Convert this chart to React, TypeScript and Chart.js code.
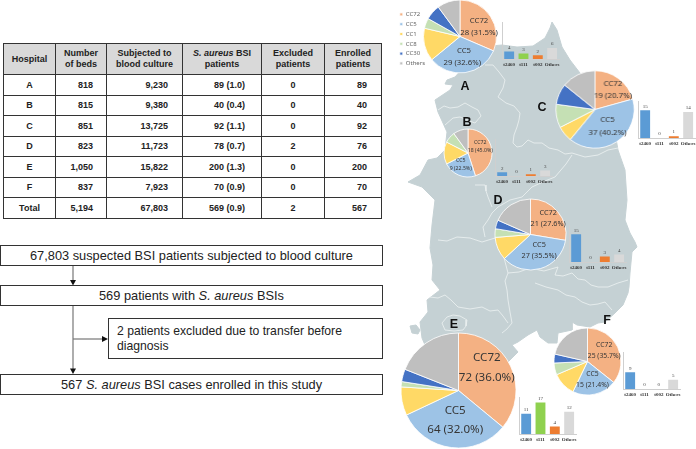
import React, { useEffect, useRef } from "react";
import { Chart, registerables } from "chart.js";

Chart.register(...registerables);

// ---------- table data ----------
const hospitals = ["A", "B", "C", "D", "E", "F", "Total"];
const beds = ["818", "815", "851", "823", "1,050", "837", "5,194"];
const cultured = ["9,230", "9,380", "13,725", "11,723", "15,822", "7,923", "67,803"];
const bsiPatients = ["89 (1.0)", "40 (0.4)", "92 (1.1)", "78 (0.7)", "200 (1.3)", "70 (0.9)", "569 (0.9)"];
const excluded = ["0", "0", "0", "2", "0", "0", "2"];
const enrolled = ["89", "40", "92", "76", "200", "70", "567"];

// ---------- pie data ----------
const ccLabels = ["CC72", "CC5", "CC1", "CC8", "CC30", "Others"];
const ccColors = ["#F4B183", "#9DC3E6", "#FFD966", "#C5E0B4", "#4472C4", "#BFBFBF"];
const pieA = [28, 29, 13, 4, 6, 9];
const pieB = [18, 9, 6, 3, 0, 4];
const pieC = [19, 37, 6, 9, 8, 13];
const pieD = [21, 27, 8, 3, 3, 14];
const pieE = [72, 64, 16, 3, 7, 38];
const pieF = [25, 15, 8, 4, 3, 15];

// ---------- bar data ----------
const spaTypes = ["t2460", "t111", "t002", "Others"];
const spaColors = ["#5B9BD5", "#8FD14F", "#ED7D31", "#D9D9D9"];
const barA = [4, 3, 2, 6];
const barB = [2, 0, 1, 3];
const barC = [15, 0, 1, 14];
const barD = [15, 0, 3, 4];
const barE = [11, 17, 4, 12];
const barF = [9, 0, 0, 5];

// ---------- map outline, in page pixels ----------
const mainlandX = [455,470,490,502,517,533,545,550,552,557,562,570,580,590,612,618,625,627,625,630,635,637,632,630,629,628,623,615,605,598,590,577,572,572,558,557,548,540,537,528,518,512,518,508,500,420,425,422,420,428,427,440,432,433,430,432,435,422,408,420,428,437,445,447,438,435,450,453,445,447,455];
const mainlandY = [77,60,46,45,47,46,38,28,22,30,47,60,73,85,115,150,170,200,220,233,242,247,252,273,287,293,305,313,322,323,327,325,322,330,333,343,343,337,330,335,342,345,352,362,370,360,345,338,322,312,300,290,280,265,248,225,200,187,182,175,160,158,150,132,112,100,90,85,84,80,77];
const isleX = [410,416,420,418,412,410];
const isleY = [326,325,330,334,333,326];
const regionLines: number[][][] = [
  [[485,65],[493,65],[499,72],[505,80],[503,88],[498,97],[506,103],[514,106],[520,113],[519,120],[517,127],[514,135],[513,143],[517,147],[522,146],[528,140],[534,143],[542,143],[549,148],[558,150],[565,154],[572,153],[585,157],[598,155],[608,150],[618,148]],
  [[438,110],[444,106],[450,108],[458,107],[465,103],[472,107],[478,110],[481,116],[475,123],[467,120],[460,117],[453,118],[445,125]],
  [[572,155],[566,164],[555,177],[545,181],[532,187],[527,192],[522,197],[510,200],[498,207],[492,213],[488,220],[483,227],[485,237]],
  [[475,185],[485,185],[486,191],[488,197],[492,207]],
  [[438,240],[447,241],[457,237],[470,238],[482,242],[495,238],[503,254],[508,273],[505,281],[507,290],[508,300],[510,312],[512,323],[507,329],[502,333]],
  [[558,267],[555,275],[563,276],[572,273],[578,279],[585,280],[591,285],[598,287],[608,287],[618,283],[628,280]],
  [[430,297],[438,298],[445,295],[451,300],[458,307],[470,309],[482,307],[490,311],[498,310],[503,316],[508,323]],
  [[442,323],[447,317],[453,315],[460,316],[467,320],[466,326],[463,330],[454,331],[445,330],[442,323]],
  [[508,273],[519,272],[530,268],[544,271],[558,267]],
  [[535,283],[546,287],[558,290],[566,295],[575,297],[582,302],[590,305],[598,304],[605,302],[612,310]],
];

// ---------- placement ----------
const fontSans = "'Liberation Sans', Arial, sans-serif";
const fontPie = "'Noto Sans', sans-serif";
const fontBar = "'Liberation Serif', serif";

type PieCfg = {
  id: string; data: number[]; cx: number; cy: number; r: number; font: number;
  off: number[][]; halfW?: number; legend?: boolean;
};
const pies: PieCfg[] = [
  { id: "A", data: pieA, cx: 460, cy: 36.5, r: 36.5, font: 7.8, off: [[19,-15.7],[19,-3.3],[4,14],[2.3,26]], halfW: 64, legend: true },
  { id: "B", data: pieB, cx: 468.3, cy: 153.3, r: 24, font: 5.2, off: [[12.3,-10],[12.3,-2.3],[-7.3,7.7],[-7.3,15.7]] },
  { id: "C", data: pieC, cx: 595, cy: 109.3, r: 38.7, font: 7.8, off: [[17.7,-26],[17.7,-13.3],[12.3,10],[12.3,23]] },
  { id: "D", data: pieD, cx: 530.7, cy: 234.3, r: 35.5, font: 7.3, off: [[17.7,-22],[17.7,-10.7],[8.7,10],[8.7,21.7]] },
  { id: "E", data: pieE, cx: 458.3, cy: 390, r: 57.5, font: 11.6, off: [[28.3,-32.7],[28.3,-13.3],[-3.3,20],[-3.3,39.3]] },
  { id: "F", data: pieF, cx: 587.3, cy: 361.7, r: 33.5, font: 6.8, off: [[16.7,-16.3],[16.7,-5],[5,12.7],[5,23.7]] },
];
const bars = [
  { data: barA, left: 501, base: 58.5 },
  { data: barB, left: 494, base: 175.7 },
  { data: barC, left: 636.5, base: 138.3 },
  { data: barD, left: 568, base: 261.7 },
  { data: barE, left: 518, base: 434.3 },
  { data: barF, left: 622, base: 389.3 },
];
const letters = [
  { t: "A", x: 465, y: 86 }, { t: "B", x: 467, y: 122 }, { t: "C", x: 542, y: 107 },
  { t: "D", x: 498, y: 200 }, { t: "E", x: 454, y: 324 }, { t: "F", x: 607, y: 320 },
];

const BAR_W = 60, BAR_H = 37, BAR_LABEL = 10;

const pieTextPlugin = {
  id: "pieText",
  afterDatasetsDraw(chart: any, _a: any, opts: any) {
    const arc = chart.getDatasetMeta(0).data[0];
    const { ctx } = chart;
    const vals: number[] = chart.data.datasets[0].data;
    const sum = vals.reduce((a, b) => a + b, 0);
    const lines = [
      ccLabels[0], `${vals[0]} (${((vals[0] / sum) * 100).toFixed(1)}%)`,
      ccLabels[1], `${vals[1]} (${((vals[1] / sum) * 100).toFixed(1)}%)`,
    ];
    ctx.save();
    ctx.font = `${opts.font}px ${fontPie}`;
    ctx.fillStyle = "#363636";
    ctx.textAlign = "center";
    ctx.textBaseline = "middle";
    lines.forEach((s, i) => ctx.fillText(s, arc.x + opts.off[i][0], arc.y + opts.off[i][1]));
    ctx.restore();
  },
};

const barValuePlugin = {
  id: "barValue",
  afterDatasetsDraw(chart: any) {
    const { ctx } = chart;
    const vals: number[] = chart.data.datasets[0].data;
    ctx.save();
    ctx.font = `5px ${fontBar}`;
    ctx.fillStyle = "#444";
    ctx.textAlign = "center";
    ctx.textBaseline = "bottom";
    chart.getDatasetMeta(0).data.forEach((el: any, i: number) => ctx.fillText(String(vals[i]), el.x, el.y - 1.5));
    ctx.restore();
  },
};

function PieChart({ cfg }: { cfg: PieCfg }) {
  const ref = useRef<HTMLCanvasElement>(null);
  useEffect(() => {
    const chart = new Chart(ref.current!, {
      type: "pie",
      data: {
        labels: ccLabels,
        datasets: [{ data: cfg.data, backgroundColor: ccColors, borderColor: "#FFFFFF", borderWidth: 0.8, radius: cfg.r } as any],
      },
      options: {
        animation: false, responsive: false,
        layout: { padding: 0 },
        plugins: {
          tooltip: { enabled: false },
          legend: cfg.legend
            ? {
                display: true, position: "chartArea" as any, align: "center",
                title: { display: true, text: " ", font: { size: 4 }, padding: 0 },
                labels: { usePointStyle: true, pointStyle: "rect", boxWidth: 3, boxHeight: 3, padding: 3.8, color: "#666", font: { size: 6, family: fontPie, lineHeight: 1.17 } },
              }
            : { display: false },
          pieText: { font: cfg.font, off: cfg.off },
        } as any,
      },
      plugins: [pieTextPlugin],
    });
    return () => chart.destroy();
  }, []);
  const halfW = cfg.halfW ?? cfg.r + 4;
  const halfH = cfg.r + 4;
  return (
    <canvas ref={ref} width={halfW * 2} height={halfH * 2}
      style={{ position: "absolute", left: cfg.cx - halfW, top: cfg.cy - halfH, width: halfW * 2, height: halfH * 2 }} />
  );
}

function BarChart({ data, left, base }: { data: number[]; left: number; base: number }) {
  const ref = useRef<HTMLCanvasElement>(null);
  useEffect(() => {
    const chart = new Chart(ref.current!, {
      type: "bar",
      data: {
        labels: spaTypes,
        datasets: [{ data, backgroundColor: spaColors, barPercentage: 0.69, categoryPercentage: 1 }],
      },
      options: {
        animation: false, responsive: false,
        layout: { padding: 0 },
        plugins: { legend: { display: false }, tooltip: { enabled: false } },
        scales: {
          x: {
            grid: { display: false, drawTicks: false },
            border: { color: "#CFCFCF" },
            ticks: { autoSkip: false, maxRotation: 0, padding: 2.5, color: "#333", font: { size: 5, family: fontBar, weight: "bold" } },
            afterFit: (s: any) => { s.height = BAR_LABEL; },
          },
          y: {
            min: 0, max: 20,
            grid: { display: false, drawTicks: false },
            border: { color: "#CFCFCF" },
            ticks: { display: false },
            afterFit: (s: any) => { s.width = 1; },
          },
        },
      },
      plugins: [barValuePlugin],
    });
    return () => chart.destroy();
  }, []);
  return (
    <canvas ref={ref} width={BAR_W + 1} height={BAR_H + BAR_LABEL}
      style={{ position: "absolute", left, top: base - BAR_H, width: BAR_W + 1, height: BAR_H + BAR_LABEL }} />
  );
}

function MapChart() {
  const ref = useRef<HTMLCanvasElement>(null);
  useEffect(() => {
    const toPts = (xs: number[], ys: number[]) => xs.map((x, i) => ({ x, y: ys[i] }));
    const land = { data: toPts(mainlandX, mainlandY), showLine: true, fill: "shape", backgroundColor: "#C5D1D4", borderColor: "#C5D1D4", borderWidth: 1, pointRadius: 0, tension: 0, order: 2 };
    const isle = { ...land, data: toPts(isleX, isleY) };
    const lines = regionLines.map((l) => ({
      data: l.map(([x, y]) => ({ x, y })), showLine: true, fill: false,
      borderColor: "#EEF2F2", borderWidth: 0.8, pointRadius: 0, tension: 0, order: 1,
    }));
    const chart = new Chart(ref.current!, {
      type: "scatter",
      data: { datasets: [...lines, land, isle] as any },
      options: {
        animation: false, responsive: false,
        layout: { padding: 0 },
        plugins: { legend: { display: false }, tooltip: { enabled: false } },
        scales: {
          x: { type: "linear", min: 385, max: 696, display: false },
          y: { type: "linear", min: 0, max: 449, reverse: true, display: false },
        },
      },
    });
    return () => chart.destroy();
  }, []);
  return <canvas ref={ref} width={311} height={449} style={{ position: "absolute", left: 385, top: 0, width: 311, height: 449 }} />;
}

const colWidths = [52, 51, 76, 79, 63, 57];
const th: React.CSSProperties = { background: "#D9D9D9", border: "1px solid #333", textAlign: "center", fontWeight: "bold", padding: 0, lineHeight: "11px" };
const td: React.CSSProperties = { border: "1px solid #333", fontWeight: "bold", padding: 0 };

function DataTable() {
  const R = (pr: number): React.CSSProperties => ({ ...td, textAlign: "right", paddingRight: pr });
  const C: React.CSSProperties = { ...td, textAlign: "center" };
  return (
    <table style={{ position: "absolute", left: 3, top: 43, width: 378, tableLayout: "fixed", borderCollapse: "collapse", fontFamily: fontSans, fontSize: 9, color: "#222" }}>
      <colgroup>{colWidths.map((w, i) => <col key={i} style={{ width: w }} />)}</colgroup>
      <thead>
        <tr style={{ height: 31 }}>
          <th style={th}>Hospital</th>
          <th style={th}>Number<br />of beds</th>
          <th style={th}>Subjected to<br />blood culture</th>
          <th style={th}><i>S. aureus</i> BSI<br />patients</th>
          <th style={th}>Excluded<br />patients</th>
          <th style={th}>Enrolled<br />patients</th>
        </tr>
      </thead>
      <tbody>
        {hospitals.map((h, i) => (
          <tr key={h} style={{ height: 20.5 }}>
            <td style={C}>{h}</td>
            <td style={R(13)}>{beds[i]}</td>
            <td style={R(14)}>{cultured[i]}</td>
            <td style={R(16)}>{bsiPatients[i]}</td>
            <td style={C}>{excluded[i]}</td>
            <td style={R(14)}>{enrolled[i]}</td>
          </tr>
        ))}
      </tbody>
    </table>
  );
}

function FlowBox({ left, top, width, height, align, children }: any) {
  return (
    <div style={{
      position: "absolute", left, top, width, height, boxSizing: "border-box", border: "1px solid #333",
      display: "flex", alignItems: "center", justifyContent: align === "left" ? "flex-start" : "center",
      paddingLeft: align === "left" ? 8 : 0, fontFamily: fontSans, fontSize: align === "left" ? 12.2 : 12.8, color: "#222", lineHeight: "15px", background: "#fff",
    }}>
      <div>{children}</div>
    </div>
  );
}

function Flow() {
  return (
    <>
      <svg width={385} height={449} style={{ position: "absolute", left: 0, top: 0 }}>
        <g stroke="#777" strokeWidth={1.2} fill="none">
          <line x1={73} y1={266} x2={73} y2={281} />
          <line x1={73} y1={306} x2={73} y2={370} />
          <line x1={73} y1={339} x2={104} y2={339} />
        </g>
        <g fill="#111">
          <polygon points="70,280 76,280 73,285.5" />
          <polygon points="70,368.5 76,368.5 73,374" />
          <polygon points="102,336 102,342 108,339" />
        </g>
      </svg>
      <FlowBox left={0} top={245} width={383} height={21}>67,803 suspected BSI patients subjected to blood culture</FlowBox>
      <FlowBox left={0} top={285} width={383} height={21}>569 patients with <i>S. aureus</i> BSIs</FlowBox>
      <FlowBox left={108} top={318} width={275} height={41} align="left">2 patients excluded due to transfer before<br />diagnosis</FlowBox>
      <FlowBox left={0} top={374} width={383} height={21}>567 <i>S. aureus</i> BSI cases enrolled in this study</FlowBox>
    </>
  );
}

export default function App() {
  return (
    <div style={{ position: "absolute", left: 0, top: 0, width: 696, height: 449, overflow: "hidden", background: "#fff", filter: "blur(0.3px)" }}>
      <MapChart />
      <DataTable />
      <Flow />
      {letters.map((l) => (
        <div key={l.t} style={{ position: "absolute", left: l.x - 10, top: l.y - 8, width: 20, height: 16, lineHeight: "16px", textAlign: "center", fontFamily: fontSans, fontWeight: "bold", fontSize: 12.5, color: "#111" }}>{l.t}</div>
      ))}
      {pies.map((p) => <PieChart key={p.id} cfg={p} />)}
      {bars.map((b, i) => <BarChart key={i} data={b.data} left={b.left} base={b.base} />)}
    </div>
  );
}
